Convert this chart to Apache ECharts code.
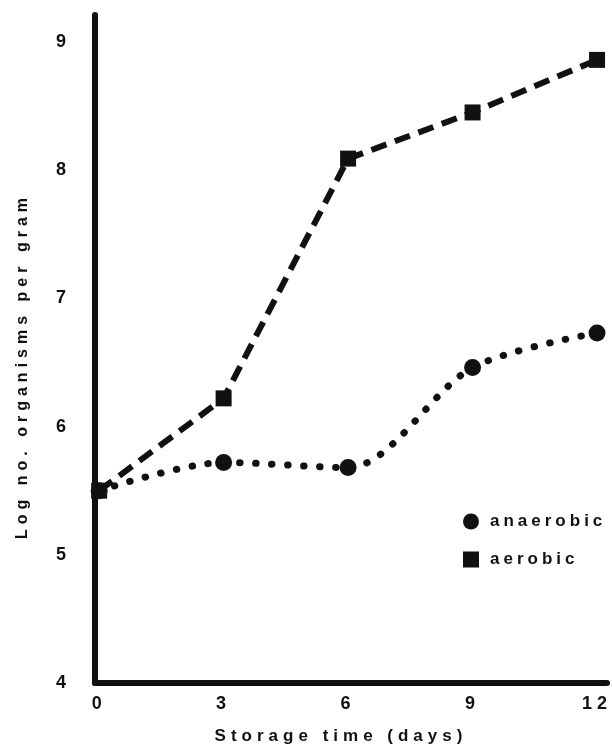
<!DOCTYPE html>
<html>
<head>
<meta charset="utf-8">
<script src="https://cdn.jsdelivr.net/npm/echarts@6/dist/echarts.min.js"></script>
<style>
html,body{margin:0;padding:0;background:#fff;}
#chart{width:612px;height:754px;}
</style>
</head>
<body>
<div id="chart"></div>
<script>
// ---- data ----
const days = [0, 3, 6, 9, 12];
const aerobic = [5.50, 6.22, 8.09, 8.45, 8.86];
const anaerobic = [5.50, 5.72, 5.68, 6.46, 6.73];
const xTicks = [0, 3, 6, 9, 12];
const yTicks = [4, 5, 6, 7, 8, 9];
const xTitle = 'Storage time (days)';
const yTitle = 'Log no. organisms per gram';
const seriesNames = ['anaerobic', 'aerobic'];

// wide letter spacing of the original lettering
const SPACED = {};
SPACED[xTitle] = 5; SPACED[yTitle] = 5;
SPACED['anaerobic'] = 4; SPACED['aerobic'] = 4;
const origFill = CanvasRenderingContext2D.prototype.fillText;
CanvasRenderingContext2D.prototype.fillText = function (t, x, y, w) {
  if (Object.prototype.hasOwnProperty.call(SPACED, t) && 'letterSpacing' in this) {
    const prev = this.letterSpacing;
    this.letterSpacing = SPACED[t] + 'px';
    const r = w === undefined ? origFill.call(this, t, x, y) : origFill.call(this, t, x, y, w);
    this.letterSpacing = prev;
    return r;
  }
  return origFill.apply(this, arguments);
};

const font = '"Liberation Sans", Arial, sans-serif';
const ink = '#111';

const chart = echarts.init(document.getElementById('chart'), null, {renderer: 'canvas', devicePixelRatio: 1});
chart.setOption({
  animation: false,
  backgroundColor: '#fff',
  grid: {left: 95, right: 5, top: 15, bottom: 71, containLabel: false},
  legend: {
    data: [
      {name: seriesNames[0], icon: 'circle'},
      {name: seriesNames[1], icon: 'rect'}
    ],
    orient: 'vertical',
    left: 458, top: 508,
    itemWidth: 16, itemHeight: 16, itemGap: 21,
    textStyle: {fontFamily: font, fontSize: 17, fontWeight: 'bold', color: ink, padding: [4, 0, 0, 6]}
  },
  xAxis: {
    type: 'value', min: -0.1, max: 12.24,
    axisLine: {show: true, onZero: false, lineStyle: {color: ink, width: 6}},
    axisTick: {show: false},
    splitLine: {show: false},
    axisLabel: {customValues: xTicks, fontFamily: font, fontSize: 18, fontWeight: 'bold', color: ink, margin: 12},
    name: xTitle, nameLocation: 'middle', nameGap: 45,
    nameTextStyle: {fontFamily: font, fontSize: 17, fontWeight: 'bold', color: ink, padding: [0, 20, 0, 0]}
  },
  yAxis: {
    type: 'value', min: 4, max: 9.21,
    axisLine: {show: true, onZero: false, lineStyle: {color: ink, width: 6}},
    axisTick: {show: false},
    splitLine: {show: false},
    axisLabel: {customValues: yTicks, fontFamily: font, fontSize: 18, fontWeight: 'bold', color: ink, margin: 24},
    name: yTitle, nameLocation: 'middle', nameRotate: 90, nameGap: 64,
    nameTextStyle: {fontFamily: font, fontSize: 16, fontWeight: 'bold', color: ink, padding: [0, 34, 0, 0]}
  },
  series: [
    {
      name: seriesNames[0], type: 'line',
      data: days.map((d, i) => [d, anaerobic[i]]),
      smooth: 0.3,
      symbol: 'circle', symbolSize: 17,
      itemStyle: {color: ink},
      lineStyle: {color: ink, width: 7, type: [0.5, 15.5], cap: 'round'},
      z: 2
    },
    {
      name: seriesNames[1], type: 'line',
      data: days.map((d, i) => [d, aerobic[i]]),
      symbol: 'rect', symbolSize: 16,
      itemStyle: {color: ink},
      lineStyle: {color: ink, width: 6, type: [16, 9]},
      z: 3
    }
  ]
});
</script>
</body>
</html>
